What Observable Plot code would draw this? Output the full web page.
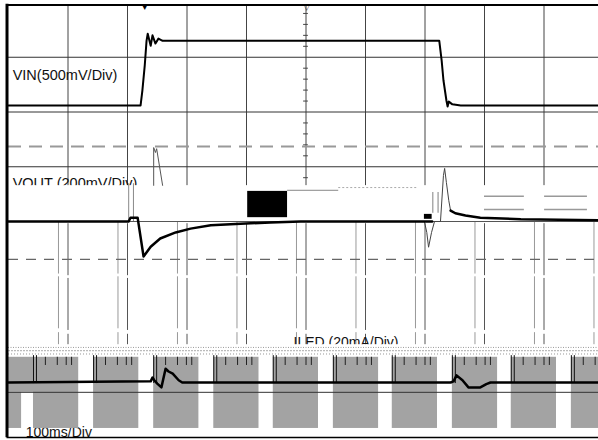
<!DOCTYPE html>
<html><head><meta charset="utf-8">
<script src="https://cdn.jsdelivr.net/npm/d3@7"></script>
<script src="https://cdn.jsdelivr.net/npm/@observablehq/plot@0.6"></script>
<style>
html,body{margin:0;padding:0;background:#fff;overflow:hidden}
#chart svg{display:block}
</style></head><body><div id="chart"></div>
<script>
// time in ms (100 ms/div), amplitude in divisions
const gridX = [-400,-300,-200,-100,0,100,200,300,400];
const gridY = [3,2,1];
const companionX = [-400,-300,-200,-100,0,100,200,300,400,500];
const segTop = [-0.04,-1.04,-2.06];
const segBottom = [-0.99,-1.99,-2.45];

const vinT = [-500,-278,-275,-271,-268,-266,-261,-258,-253,-248,-241,224,228,231,236,238,240,246,260,500];
const vinV = [2.12,2.12,2.39,2.85,3.30,3.43,3.21,3.40,3.25,3.34,3.30,3.30,2.94,2.58,2.21,2.10,2.19,2.14,2.12,2.12];

const voutLeftT = [-500,-298,-295,-283,-273,-261,-245,-219,-194,-160,-110,-60,-9,212];
const voutLeftV = [0,0,0.07,0.07,-0.64,-0.46,-0.31,-0.20,-0.13,-0.07,-0.04,-0.02,0,0];
const voutRightT = [243,251,268,293,361,500];
const voutRightV = [0.20,0.15,0.11,0.07,0.04,0.02];
const voutSpikeT = [199,203,206,211,216,226,231,233,236,240,243];
const voutSpikeV = [0,-0.2,-0.47,-0.2,0,0,0.84,0.97,0.71,0.38,0.20];
const glitchT = [-256,-256,-253,-251,-241];
const glitchV = [0.66,1.35,1.26,1.33,0.66];

const ledT = [-500,-261,-258,-255,-250,-243,-236,-231,-224,-214,-208,243,248,253,263,273,293,303,310,500];
const ledV = [-2.94,-2.92,-2.85,-2.90,-2.96,-3.03,-2.69,-2.74,-2.78,-2.90,-2.94,-2.94,-2.92,-2.81,-2.90,-3.03,-3.03,-2.97,-2.94,-2.94];
const pulseStart = [-458,-357,-256,-155,-55,46,145,246,345,446];
const pulseWidth = 76;
const pulseTickOffsets = [20,40,55,64];

const minorTicks = [0.8,1.2,1.4,1.6,1.8,2.2,2.4,2.6,2.8,3.2,3.4,3.6,3.8];

const labels = [
  {t:-493, v:2.58, text:"VIN(500mV/Div)", size:14.5},
  {t:-493, v:0.62, text:"VOUT (200mV/Div)", size:14.5},
  {t:-21, v:-2.30, text:"ILED (20mA/Div)", size:14},
  {t:-471, v:-3.94, text:"100ms/Div", size:14}
];

const pts = (T, V) => T.map((t, i) => ({t, v: V[i]}));
const lowerSegs = [];
for (const g of gridX) segTop.forEach((s, i) => lowerSegs.push({x: g, y1: s, y2: segBottom[i], c: "#555"}));
for (const g of companionX) segTop.forEach((s, i) => lowerSegs.push({x: g - 16, y1: s + 0.03, y2: segBottom[i] + 0.03, c: "#999"}));
const pulses = pulseStart.map(s => ({x1: s, x2: Math.min(s + pulseWidth, 520)}));
const pulseEdges = pulseStart.flatMap(s => [s, s + 5]);
const pulseTicks = pulseStart.flatMap(s => pulseTickOffsets.map(o => s + o)).filter(t => t < 500);
const minorPts = minorTicks.map(v => ({v}));

const chart = Plot.plot({
  width: 598, height: 440, margin: 0,
  x: {domain: [-500, 500], range: [8, 603], axis: null},
  y: {domain: [-4, 4], range: [440, 2], axis: null},
  style: {background: "#fff", fontFamily: "'Liberation Sans', Arial, sans-serif"},
  marks: [
    // upper grid
    Plot.ruleX(gridX, {y1: 3.95, y2: 0.62, stroke: "#444", strokeWidth: 1}),
    Plot.ruleY(gridY, {x1: -500, x2: 500, stroke: "#333", strokeWidth: 1}),
    Plot.ruleY(minorPts, {y: "v", x1: -4, x2: 4, stroke: "#444"}),
    // lower broken verticals
    Plot.ruleX(lowerSegs, {x: "x", y1: "y1", y2: "y2", stroke: "c", strokeWidth: 1}),
    // dashed cursors
    Plot.ruleY([1.37], {x1: -500, x2: 500, stroke: "#999", strokeWidth: 2, strokeDasharray: "13,8"}),
    Plot.ruleY([-0.69], {x1: -500, x2: 500, stroke: "#666", strokeWidth: 1.3, strokeDasharray: "10,8"}),
    // labels
    Plot.text(labels, {x: "t", y: "v", text: "text", fontSize: "size", textAnchor: "start", lineAnchor: "bottom", fill: "#111"}),
    // white band clipping VOUT label
    Plot.rect([0], {x1: -500, x2: 500, y1: 0.03, y2: 0.655, fill: "#fff"}),
    // white band clipping ILED label
    Plot.rect([0], {x1: -500, x2: 500, y1: -2.25, y2: -2.48, fill: "#fff"}),
    // noise band above LED pulses
    Plot.ruleY([-2.30], {x1: -500, x2: 500, stroke: "#999", strokeWidth: 1, strokeDasharray: "1,1.5"}),
    Plot.ruleY([-2.36], {x1: -500, x2: 500, stroke: "#aaa", strokeWidth: 1, strokeDasharray: "2,1"}),
    Plot.ruleY([-2.42], {x1: -500, x2: 500, stroke: "#999", strokeWidth: 1, strokeDasharray: "1,2"}),
    // LED gray pulse blocks
    Plot.rect(pulses, {x1: "x1", x2: "x2", y1: -2.48, y2: -3.78, fill: "#a3a3a3"}),
    Plot.rect([0], {x1: -500, x2: -458, y1: -2.48, y2: -3.12, fill: "#a3a3a3"}),
    Plot.rect([0], {x1: -500, x2: -478, y1: -3.12, y2: -3.78, fill: "#a3a3a3"}),
    Plot.ruleX(pulseEdges, {y1: -2.45, y2: -2.96, stroke: "#111", strokeWidth: 1}),
    Plot.ruleX(pulseTicks, {y1: -2.48, y2: -2.63, stroke: "#222", strokeWidth: 1}),
    Plot.ruleY([-3.12], {x1: -500, x2: 500, stroke: "#333", strokeWidth: 1}),
    // zero line of VOUT
    Plot.ruleY([0], {x1: -500, x2: 500, stroke: "#555", strokeWidth: 1}),
    // VOUT decorations
    Plot.rect([0], {x1: -98, x2: -31, y1: 0.07, y2: 0.55, fill: "#000"}),
    Plot.rect([0], {x1: 199, x2: 212, y1: 0.04, y2: 0.13, fill: "#000"}),
    Plot.ruleY([0.57], {x1: -31, x2: 55, stroke: "#888", strokeWidth: 1}),
    Plot.ruleY([0.62], {x1: 55, x2: 187, stroke: "#aaa", strokeWidth: 1, strokeDasharray: "2,2"}),
    Plot.ruleY([0.46, 0.22], {x1: 300, x2: 367, stroke: "#999", strokeWidth: 1.5}),
    Plot.ruleY([0.46, 0.22], {x1: 401, x2: 473, stroke: "#999", strokeWidth: 1.5}),
    Plot.ruleX([-298, -290], {y1: 0.69, y2: 0, stroke: "#888", strokeWidth: 1}),
    Plot.ruleX([213, 222], {y1: 0.53, y2: 0.15, stroke: "#aaa", strokeWidth: 1.5}),
    // traces
    Plot.line(pts(glitchT, glitchV), {x: "t", y: "v", stroke: "#555", strokeWidth: 1}),
    Plot.line(pts(voutSpikeT, voutSpikeV), {x: "t", y: "v", stroke: "#444", strokeWidth: 1}),
    Plot.line(pts(voutLeftT, voutLeftV), {x: "t", y: "v", stroke: "#000", strokeWidth: 2.5}),
    Plot.line(pts(voutRightT, voutRightV), {x: "t", y: "v", stroke: "#000", strokeWidth: 2.5}),
    Plot.line(pts(vinT, vinV), {x: "t", y: "v", stroke: "#000", strokeWidth: 2}),
    Plot.line(pts(ledT, ledV), {x: "t", y: "v", stroke: "#000", strokeWidth: 2.5}),
    // markers on top edge
    Plot.text(["▼"], {x: -271, y: 3.96, text: d => d, fontSize: 8, lineAnchor: "top", fill: "#000"}),
    Plot.text(["▽"], {x: 0, y: 3.96, text: d => d, fontSize: 7, lineAnchor: "top", fill: "#000"}),
    // frame
    Plot.ruleX([-502.5], {y1: 3.97, y2: -3.95, stroke: "#000", strokeWidth: 3}),
    Plot.ruleY([3.955], {x1: -502.5, x2: 500, stroke: "#000", strokeWidth: 2}),
    Plot.ruleY([-3.945], {x1: -502.5, x2: 500, stroke: "#000", strokeWidth: 1.5})
  ]
});
document.getElementById("chart").append(chart);
</script></body></html>
